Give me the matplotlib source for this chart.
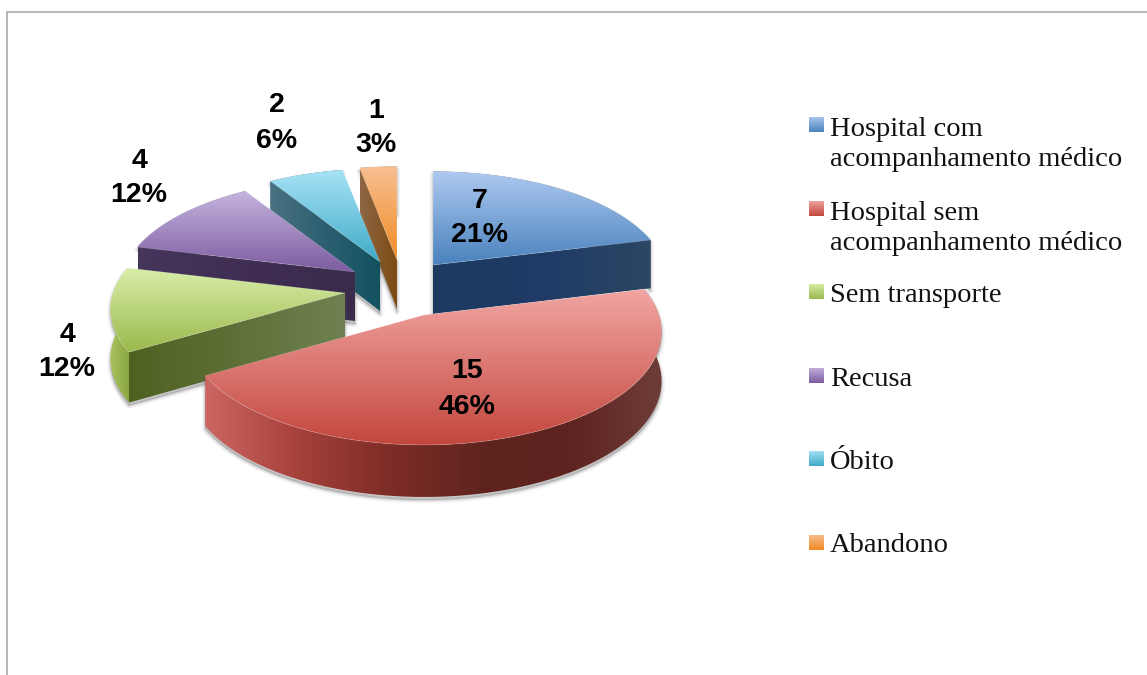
import numpy as np
import matplotlib
matplotlib.use("Agg")
import matplotlib.pyplot as plt
from matplotlib.colors import LinearSegmentedColormap
from matplotlib.patches import Polygon

categories = ["Hospital com\nacompanhamento médico", "Hospital sem\nacompanhamento médico",
              "Sem transporte", "Recusa", "Óbito", "Abandono"]
values = [7, 15, 4, 4, 2, 1]
percents = [21, 46, 12, 12, 6, 3]

# layout of the exploded pie, in figure pixels
apex_x = [433, 424, 345, 355, 380, 397]
apex_y = [265, 315, 293, 272, 262, 260]
radius_x = [232, 235, 232, 232, 232, 232]
radius_y = [110, 113, 110, 110, 110, 110]
K = 0.15
label_xy = [(480, 218), (467, 389), (67, 352), (139, 178), (277, 123), (376, 128)]
legend_y = [117, 200.5, 284, 367.5, 451, 534.5]
draw_order = [0, 5, 4, 3, 2, 1]
face_at = ["end", None, "start", "start", "start", "start"]

top_cols = [("#AEC9F0", "#4A82BD"), ("#F2A6A3", "#C2463D"), ("#D9EEAA", "#9BB94C"),
            ("#C5B4DE", "#7C5CA0"), ("#A8E3F7", "#3FAAC7"), ("#F8C092", "#F08A24")]
outer_cols = [("#2B4763", "#2B4763"),
              ("#CB6662", "#A6413B", "#7F2D28", "#60241E", "#5F2320", "#6E3D38"),
              ("#A9C45F", "#8BA742"), ("#46365C", "#3A2B4C"),
              ("#4A7282", "#125260"), ("#8F6746", "#7A4A10")]
face_cols = [("#1C3C60", "#1F3A66", "#2B4763"), ("#7F2D28", "#7F2D28"),
             ("#4E6120", "#5F7038", "#6F8150"), ("#46365C", "#3F2E52", "#3A2B4C"),
             ("#4A7282", "#2C5F70", "#125260"), ("#8F6746", "#7A4A10")]

fig = plt.figure(figsize=(11.47, 6.75), dpi=100, facecolor="white")
ax = fig.add_axes([0, 0, 1, 1])
ax.axis("off")


def gradient(points, colors, vertical, zorder):
    """Fill a polygon with a linear gradient."""
    pts = np.asarray(points)
    x0, y0 = pts.min(axis=0)
    x1, y1 = pts.max(axis=0)
    cmap = LinearSegmentedColormap.from_list("g", list(colors))
    ramp = np.linspace(0, 1, 256)
    data = ramp[:, None] if vertical else ramp[None, :]
    im = ax.imshow(data, cmap=cmap, vmin=0, vmax=1, extent=(x0, x1 + .01, y1 + .01, y0),
                   aspect="auto", origin="upper", interpolation="bilinear", zorder=zorder)
    clip = Polygon(pts, closed=True, transform=ax.transData, facecolor="none", edgecolor="none")
    ax.add_patch(clip)
    im.set_clip_path(clip)


def rim(theta, i):
    s, c = np.sin(theta), np.cos(theta)
    f = 1 - K * c
    return np.column_stack([apex_x[i] + radius_x[i] * s * f, apex_y[i] - radius_y[i] * c * f])


def drop(theta):
    return 49 - 3 * np.cos(theta)


total = sum(values)
edges = np.radians(np.concatenate([[0], np.cumsum(values)]) / total * 360)

for depth_z, i in enumerate(draw_order):
    z = 2 + depth_z * 5
    th = np.linspace(edges[i], edges[i + 1], 120)
    arc = rim(th, i)
    low = arc + np.column_stack([np.zeros_like(th), drop(th)])
    apex = np.array([[apex_x[i], apex_y[i]]], dtype=float)
    apex_low = apex + [0, 49]

    # soft shadow, offset downwards
    sil = np.vstack([apex, arc, low[::-1], apex_low])
    for lw, a in [(5, .05), (3, .09), (1.5, .14)]:
        ax.add_patch(Polygon(sil + [0, 3], closed=True, facecolor="#555555", edgecolor="#555555",
                             linewidth=lw, alpha=a, zorder=z, joinstyle="round"))

    # curved outer wall
    gradient(np.vstack([arc, low[::-1]]), outer_cols[i], False, z + 1)

    # flat cut face
    if face_at[i]:
        t = edges[i + 1] if face_at[i] == "end" else edges[i]
        p = rim(np.array([t]), i)
        q = p + [0, drop(t)]
        gradient(np.vstack([apex, p, q, apex_low]), face_cols[i], False, z + 2)

    # top surface
    top = np.vstack([apex, arc])
    gradient(top, top_cols[i], True, z + 3)
    ax.add_patch(Polygon(top, closed=True, facecolor="none", edgecolor="white",
                         linewidth=.6, alpha=.2, zorder=z + 4))

# data labels
for i, (x, y) in enumerate(label_xy):
    ax.text(x, y, f"{values[i]}\n{percents[i]}%", ha="center", va="center", ma="center",
            family="Liberation Sans", weight="bold", fontsize=20.5, color="black",
            linespacing=1.45, zorder=60)

# legend
for i, name in enumerate(categories):
    y = legend_y[i]
    gradient([(809, y), (824, y), (824, y + 15), (809, y + 15)], top_cols[i], True, 60)
    if "\n" in name:
        ax.text(830, y, name, ha="left", va="top", family="Liberation Serif",
                fontsize=20.5, color="#111111", linespacing=1.28, zorder=60)
    else:
        ax.text(830, y + 18, name, ha="left", va="baseline", family="Liberation Serif",
                fontsize=20.5, color="#111111", zorder=60)

# chart frame (top and left edges only reach the picture)
ax.plot([7, 7, 1147], [675, 12, 12], color="#A3A3A3", lw=1.1, zorder=1, solid_joinstyle="miter")

ax.set_xlim(0, 1147)
ax.set_ylim(675, 0)
fig.savefig("out.png", dpi=100, facecolor="white")
